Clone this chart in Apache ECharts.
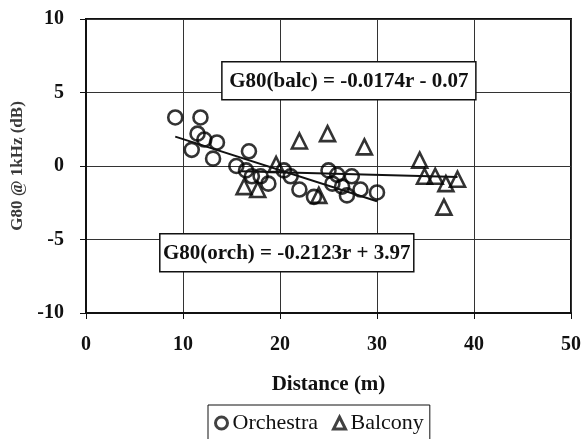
<!DOCTYPE html>
<html>
<head>
<meta charset="utf-8">
<script src="https://cdn.jsdelivr.net/npm/echarts@6/dist/echarts.min.js"></script>
<style>
  html, body { margin: 0; padding: 0; background: #fff; }
  #chart { width: 584px; height: 439px; }
</style>
</head>
<body>
<div id="chart"></div>
<script>
// distance (m) / G80 (dB)
const orchDist = [9.2, 11.8, 11.5, 12.2, 13.5, 10.9, 13.1, 16.8, 15.5, 16.5, 17.1, 18.0, 18.8, 20.4, 21.1, 22.0, 23.5, 25.0, 25.9, 25.4, 26.4, 26.9, 27.4, 28.3, 30.0];
const orchG80 = [3.3, 3.3, 2.2, 1.8, 1.6, 1.1, 0.5, 1.0, 0.0, -0.3, -0.7, -0.7, -1.2, -0.3, -0.7, -1.6, -2.1, -0.3, -0.6, -1.2, -1.4, -2.0, -0.7, -1.6, -1.8];
const balcDist = [22.0, 24.9, 28.7, 16.3, 17.7, 19.6, 24.0, 34.4, 34.9, 36.0, 37.1, 38.3, 36.9];
const balcG80 = [1.7, 2.2, 1.3, -1.4, -1.6, 0.1, -2.0, 0.4, -0.7, -0.7, -1.2, -0.9, -2.8];

// fitted line ends
const orchFitDist = [9.2, 30.0];
const orchFitG80 = [2.0, -2.4];
const balcFitDist = [16.0, 38.3];
const balcFitG80 = [-0.35, -0.74];

const orchEq = 'G80(orch) = -0.2123r + 3.97';
const balcEq = 'G80(balc) = -0.0174r - 0.07';
// where the equation boxes sit, in data units
const orchEqAt = [20.7, -5.9];
const balcEqAt = [27.1, 5.8];

const pairs = (xs, ys) => xs.map((x, i) => [x, ys[i]]);

const ink = '#111';
const serif = 'Liberation Serif';

let chart = echarts.init(document.getElementById('chart'));

let option = {
  animation: false,
  backgroundColor: '#fff',
  grid: {
    left: 86, right: 12, top: 19, bottom: 126,
    show: true, borderColor: ink, borderWidth: 2
  },
  xAxis: {
    type: 'value', min: 0, max: 50, interval: 10,
    name: 'Distance (m)', nameLocation: 'middle', nameGap: 61,
    nameTextStyle: { fontFamily: serif, fontWeight: 'bold', fontSize: 21, color: ink },
    axisLine: { onZero: false, lineStyle: { color: ink, width: 2 } },
    axisTick: { show: true, length: 6, lineStyle: { color: ink } },
    axisLabel: { margin: 22, fontFamily: serif, fontWeight: 'bold', fontSize: 20, color: ink },
    splitLine: { lineStyle: { color: '#333', width: 1 } }
  },
  yAxis: {
    type: 'value', min: -10, max: 10, interval: 5,
    name: 'G80 @ 1kHz (dB)', nameLocation: 'middle', nameGap: 60,
    nameTextStyle: { fontFamily: serif, fontWeight: 'bold', fontSize: 17, color: '#3a3a3a' },
    axisLine: { onZero: false, lineStyle: { color: ink, width: 2 } },
    axisTick: { show: true, length: 6, lineStyle: { color: ink } },
    axisLabel: { margin: 22, fontFamily: serif, fontWeight: 'bold', fontSize: 20, color: ink },
    splitLine: { lineStyle: { color: '#333', width: 1 } }
  },
  legend: {
    top: 405, left: 208,
    data: [
      { name: 'Orchestra', icon: 'circle', itemStyle: { color: '#fff', borderColor: ink, borderWidth: 3 } },
      { name: 'Balcony', icon: 'triangle', itemStyle: { color: '#fff', borderColor: ink, borderWidth: 3 } }
    ],
    itemWidth: 12, itemHeight: 12, itemGap: 14,
    padding: [7, 6, 12, 6],
    borderColor: ink, borderWidth: 1,
    textStyle: { fontFamily: serif, fontSize: 22, color: ink }
  },
  series: [
    {
      name: 'Orchestra', type: 'scatter', symbol: 'circle', symbolSize: 14,
      itemStyle: { color: 'rgba(255,255,255,0)', borderColor: '#000', borderWidth: 2.6 },
      data: pairs(orchDist, orchG80), z: 3
    },
    {
      name: 'Balcony', type: 'scatter', symbol: 'triangle', symbolSize: 15,
      itemStyle: { color: 'rgba(255,255,255,0)', borderColor: '#000', borderWidth: 2.6 },
      data: pairs(balcDist, balcG80), z: 3
    },
    {
      name: 'orchFit', type: 'line', symbol: 'none',
      lineStyle: { color: ink, width: 2 },
      data: pairs(orchFitDist, orchFitG80), z: 4
    },
    {
      name: 'balcFit', type: 'line', symbol: 'none',
      lineStyle: { color: ink, width: 2 },
      data: pairs(balcFitDist, balcFitG80), z: 4
    }
  ]
};

chart.setOption(option);

// equation boxes, placed through the axes
const boxW = 254, boxH = 38;
const eqBox = (text, at) => {
  let p = chart.convertToPixel({ gridIndex: 0 }, at);
  return {
    type: 'group', x: p[0], y: p[1], z: 10,
    children: [
      {
        type: 'rect',
        shape: { x: -boxW / 2, y: -boxH / 2, width: boxW, height: boxH },
        style: { fill: '#fff', stroke: ink, lineWidth: 1.5 }
      },
      {
        type: 'text',
        style: {
          text: text, x: 0, y: 1, align: 'center', verticalAlign: 'middle',
          font: 'bold 21px "Liberation Serif"', fill: ink
        }
      }
    ]
  };
};

chart.setOption({
  graphic: [eqBox(balcEq, balcEqAt), eqBox(orchEq, orchEqAt)]
});
</script>
</body>
</html>
